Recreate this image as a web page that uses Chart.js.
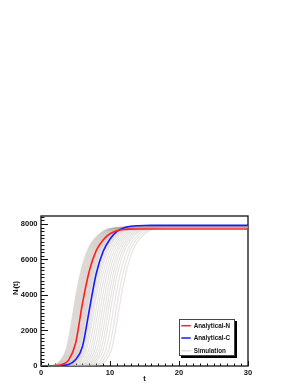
<!DOCTYPE html>
<html>
<head>
<meta charset="utf-8">
<script src="https://cdn.jsdelivr.net/npm/chart.js@4/dist/chart.umd.min.js"></script>
<style>
html,body{margin:0;padding:0;background:#fff;}
canvas{display:block;}
</style>
</head>
<body>
<canvas id="c" width="298" height="385"></canvas>
<script>
// ---- data ----
const tValues     = [0,1,2,3,4,5,6,7,8,9,10,11,12,13,14,15,16,30];
const analyticalN = [0,3,15,70,330,1250,3500,5350,6500,7100,7450,7620,7690,7712,7720,7720,7720,7720];
const analyticalC = [0,1,6,25,90,350,1080,3150,5200,6450,7150,7580,7780,7870,7905,7918,7920,7920];

const simLevels = [0,50,300,900,2000,3200,4300,5400,6500,7100,7600,7780];
const simTimes = [
 [0.4,1.8,2.8,3.6,4.2,4.7,5.2,5.8,6.7,7.6,9.0,10.5],
 [0.5,1.9,2.9,3.7,4.3,4.8,5.3,5.9,6.8,7.7,9.1,10.6],
 [0.6,2.0,3.0,3.8,4.4,4.9,5.4,6.0,6.9,7.8,9.2,10.7],
 [0.7,2.1,3.1,3.9,4.5,5.0,5.5,6.1,7.0,7.9,9.3,10.8],
 [0.8,2.2,3.2,4.0,4.6,5.1,5.6,6.2,7.1,8.0,9.4,10.9],
 [0.9,2.3,3.3,4.1,4.7,5.2,5.7,6.3,7.2,8.1,9.5,11.0],
 [1.0,2.4,3.4,4.2,4.8,5.3,5.8,6.4,7.3,8.2,9.6,11.1],
 [1.1,2.5,3.5,4.3,4.9,5.4,5.9,6.5,7.4,8.3,9.7,11.2],
 [1.2,2.6,3.6,4.4,5.0,5.5,6.0,6.6,7.5,8.4,9.8,11.3],
 [1.3,2.7,3.7,4.5,5.1,5.6,6.1,6.7,7.6,8.5,9.9,11.4],
 [1.4,2.8,3.8,4.6,5.2,5.7,6.2,6.8,7.7,8.6,10.0,11.5],
 [1.5,2.9,3.9,4.7,5.3,5.8,6.3,6.9,7.8,8.7,10.1,11.6],
 [1.6,3.0,4.0,4.8,5.4,5.9,6.4,7.0,7.9,8.8,10.2,11.7],
 [1.7,3.1,4.1,4.9,5.5,6.0,6.5,7.1,8.0,8.9,10.3,11.8],
 [1.8,3.2,4.2,5.0,5.6,6.1,6.6,7.2,8.1,9.0,10.4,11.9],
 [1.9,3.3,4.3,5.1,5.7,6.2,6.7,7.3,8.2,9.1,10.5,12.0],
 [2.0,3.4,4.4,5.2,5.8,6.3,6.8,7.4,8.3,9.2,10.6,12.1],
 [2.1,3.5,4.5,5.3,5.9,6.4,6.9,7.5,8.4,9.3,10.7,12.2],
 [2.2,3.6,4.6,5.4,6.0,6.5,7.0,7.6,8.5,9.4,10.8,12.3],
 [2.3,3.7,4.7,5.5,6.1,6.6,7.1,7.7,8.6,9.5,10.9,12.4],
 [2.4,3.8,4.8,5.6,6.2,6.7,7.2,7.8,8.7,9.6,11.0,12.5],
 [2.55,3.95,4.95,5.75,6.35,6.85,7.35,7.95,8.85,9.75,11.15,12.65],
 [2.7,4.1,5.1,5.9,6.5,7.0,7.5,8.1,9.0,9.9,11.3,12.8],
 [2.85,4.25,5.25,6.05,6.65,7.15,7.65,8.25,9.15,10.05,11.45,12.95],
 [3.0,4.4,5.4,6.2,6.8,7.3,7.8,8.4,9.3,10.2,11.6,13.1],
 [3.2,4.6,5.6,6.4,7.0,7.5,8.0,8.6,9.5,10.4,11.8,13.3],
 [3.4,4.8,5.8,6.6,7.2,7.7,8.2,8.8,9.7,10.6,12.0,13.5],
 [3.7,5.1,6.1,6.9,7.5,8.0,8.5,9.1,10.0,10.9,12.3,13.8],
 [4.0,5.4,6.4,7.2,7.8,8.3,8.8,9.4,10.3,11.2,12.6,14.1],
 [4.3,5.7,6.7,7.5,8.1,8.6,9.1,9.7,10.6,11.5,12.9,14.4],
 [4.6,6.0,7.0,7.8,8.4,8.9,9.4,10.0,10.9,11.8,13.2,14.7],
 [4.9,6.3,7.3,8.1,8.7,9.2,9.7,10.3,11.2,12.1,13.5,15.0],
 [5.2,6.6,7.6,8.4,9.0,9.5,10.0,10.6,11.5,12.4,13.8,15.3],
 [5.5,6.9,7.9,8.7,9.3,9.8,10.3,10.9,11.8,12.7,14.1,15.6],
 [5.8,7.2,8.2,9.0,9.6,10.1,10.6,11.2,12.1,13.0,14.4,15.9],
 [6.2,7.6,8.6,9.4,10.0,10.5,11.0,11.6,12.5,13.4,14.8,16.3],
 [6.6,8.0,9.0,9.8,10.4,10.9,11.4,12.0,12.9,13.8,15.2,16.7],
 [7.0,8.4,9.4,10.2,10.8,11.3,11.8,12.4,13.3,14.2,15.6,17.1]
];
const simPlateau = [7850,7880,7820,7900,7860,7840,7890,7830,7870,7910,7850,7880,7820,7860,7900,7840,7870,7890,7830,
                    7850,7880,7860,7910,7840,7870,7820,7890,7850,7860,7880,7840,7900,7870,7850,7830,7880,7860,7900];
const simPlateauTimes = [18, 30];

const xTickValues = [0,10,20,30];
const yTickValues = [0,2000,4000,6000,8000];
const seriesNames = ['Analytical-N','Analytical-C','Simulation'];

// ---- build datasets ----
const RED = '#ff2020', BLUE = '#1a1aff', SIM = 'rgba(178,170,162,0.30)';
const datasets = [];
datasets.push({label: seriesNames[0], data: tValues.map((t,i)=>({x:t,y:analyticalN[i]})),
  borderColor: RED, borderWidth: 1.6, legendLine: RED});
datasets.push({label: seriesNames[1], data: tValues.map((t,i)=>({x:t,y:analyticalC[i]})),
  borderColor: BLUE, borderWidth: 1.6, legendLine: BLUE});
simTimes.forEach((times, r) => {
  const pts = [{x:0,y:0}];
  times.forEach((t,i)=>pts.push({x:t,y:simLevels[i]}));
  simPlateauTimes.forEach(t=>pts.push({x:t,y:simPlateau[r]}));
  datasets.push({label: r===0 ? seriesNames[2] : '', data: pts, borderColor: SIM, borderWidth: 1.2,
    legendLine: r===0 ? 'rgba(222,219,215,1)' : null});
});
datasets.forEach(d => { d.pointRadius = 0; d.fill = false; d.cubicInterpolationMode = 'monotone'; d.showLine = true; });

const FONT = 'bold 7.5px "Liberation Sans", "DejaVu Sans", Arial, sans-serif';

const rootStyle = {
  id: 'rootStyle',
  beforeDatasetsDraw(chart) {
    const {ctx, chartArea: a, scales: {x, y}} = chart;
    ctx.save();
    ctx.strokeStyle = '#111';
    ctx.lineWidth = 1;
    for (let v = 0; v <= 8400; v += 200) {
      const py = Math.round(y.getPixelForValue(v)) + 0.5;
      const len = (v % 2000 === 0) ? 7 : 3.5;
      ctx.beginPath(); ctx.moveTo(a.left, py); ctx.lineTo(a.left + len, py); ctx.stroke();
    }
    for (let v = 0; v <= 30; v += 1) {
      const px = Math.round(x.getPixelForValue(v)) + 0.5;
      const len = (v % 10 === 0) ? 5 : 2.5;
      ctx.beginPath(); ctx.moveTo(px, a.bottom); ctx.lineTo(px, a.bottom - len); ctx.stroke();
    }
    ctx.lineWidth = 1.3;
    ctx.strokeRect(a.left, a.top, a.right - a.left, a.bottom - a.top);
    ctx.restore();
  },
  afterDraw(chart) {
    const {ctx, chartArea: a} = chart;
    ctx.save();
    ctx.fillStyle = '#111';
    ctx.font = FONT;
    ctx.textAlign = 'center';
    ctx.textBaseline = 'middle';
    ctx.fillText('t', (a.left + a.right) / 2, 379);
    ctx.save();
    ctx.translate(16, (a.top + a.bottom) / 2 - 3);
    ctx.rotate(-Math.PI / 2);
    ctx.fillText('N\u1D62(t)', 0, 0);
    ctx.restore();

    // legend box (ROOT style with shadow)
    const bx = 179, by = 319, bw = 56, bh = 37;
    ctx.fillStyle = '#000';
    ctx.fillRect(bx + 2, by + 2, bw, bh);
    ctx.fillStyle = '#fff';
    ctx.fillRect(bx, by, bw, bh);
    ctx.strokeStyle = '#444';
    ctx.lineWidth = 1;
    ctx.strokeRect(bx + 0.5, by + 0.5, bw - 1, bh - 1);
    const entries = chart.data.datasets.filter(d => d.legendLine);
    const rows = [325.7, 338, 350.7];
    ctx.font = 'bold 6.3px "Liberation Sans", "DejaVu Sans", Arial, sans-serif';
    ctx.textAlign = 'left';
    entries.forEach((d, i) => {
      const yy = rows[i];
      ctx.strokeStyle = d.legendLine;
      ctx.lineWidth = 1.5;
      ctx.beginPath(); ctx.moveTo(181.3, yy); ctx.lineTo(190.7, yy); ctx.stroke();
      ctx.fillStyle = '#111';
      ctx.fillText(d.label, 193.7, yy + 0.3);
    });
    ctx.restore();
  }
};

const tickFont = { family: '"Liberation Sans", Arial, sans-serif', size: 7.5, weight: 'bold' };

new Chart(document.getElementById('c'), {
  type: 'line',
  data: { datasets },
  options: {
    responsive: false,
    devicePixelRatio: 1,
    animation: false,
    parsing: false,
    normalized: true,
    layout: { padding: { left: 0, top: 216, right: 50, bottom: 0 } },
    plugins: { legend: { display: false }, tooltip: { enabled: false } },
    scales: {
      x: {
        type: 'linear', min: 0, max: 30,
        grid: { display: false, drawTicks: false, tickLength: 0 },
        border: { display: false },
        ticks: { color: '#111', font: tickFont, padding: 2, maxRotation: 0, autoSkip: false,
                 callback: v => String(v) },
        afterBuildTicks: s => { s.ticks = xTickValues.map(v => ({value: v})); },
        afterFit: s => { s.height = 19; }
      },
      y: {
        type: 'linear', min: 0, max: 8450,
        grid: { display: false, drawTicks: false, tickLength: 0 },
        border: { display: false },
        ticks: { color: '#111', font: tickFont, padding: 3.5, autoSkip: false,
                 callback: v => String(v) },
        afterBuildTicks: s => { s.ticks = yTickValues.map(v => ({value: v})); },
        afterFit: s => { s.width = 41; }
      }
    }
  },
  plugins: [rootStyle]
});
</script>
</body>
</html>
